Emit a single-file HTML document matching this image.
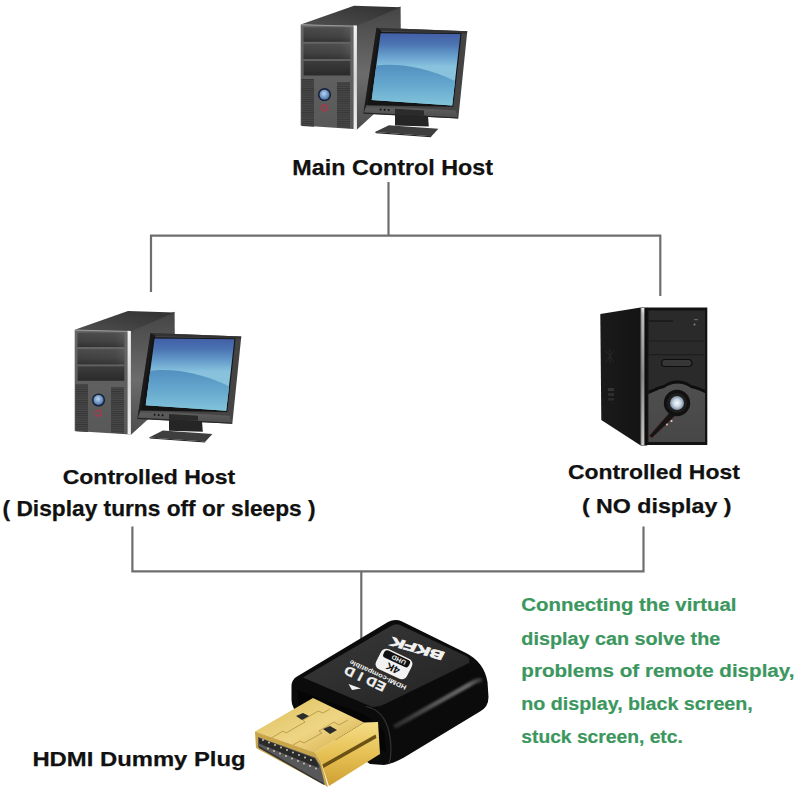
<!DOCTYPE html>
<html><head><meta charset="utf-8">
<style>
html,body{margin:0;padding:0;background:#fff;}
body{width:800px;height:800px;overflow:hidden;position:relative;}
svg{position:absolute;left:0;top:0;}
text{font-family:"Liberation Sans",sans-serif;font-weight:bold;}
</style></head><body>
<svg width="800" height="800" viewBox="0 0 800 800">
<defs>
 <linearGradient id="scr" x1="0" y1="0" x2="0" y2="1">
  <stop offset="0" stop-color="#425fa6"/>
  <stop offset="0.15" stop-color="#4b74b2"/>
  <stop offset="0.35" stop-color="#6ea8d2"/>
  <stop offset="0.46" stop-color="#88c2dd"/>
 </linearGradient>
 <linearGradient id="wave" x1="0" y1="0" x2="0" y2="1">
  <stop offset="0" stop-color="#5290c0"/>
  <stop offset="0.5" stop-color="#66a8ce"/>
  <stop offset="1" stop-color="#82c4da"/>
 </linearGradient>
 <radialGradient id="btnb" cx="0.45" cy="0.4" r="0.6">
  <stop offset="0" stop-color="#b9d4f0"/>
  <stop offset="1" stop-color="#4a74a8"/>
 </radialGradient>
 <linearGradient id="topf" x1="0" y1="1" x2="1" y2="0">
  <stop offset="0" stop-color="#505050"/>
  <stop offset="1" stop-color="#303030"/>
 </linearGradient>
 <linearGradient id="sidef" x1="0" y1="0" x2="0" y2="1">
  <stop offset="0" stop-color="#444"/>
  <stop offset="0.55" stop-color="#6c6c6c"/>
  <stop offset="1" stop-color="#4c4c4c"/>
 </linearGradient>
 <linearGradient id="bay" x1="0" y1="0" x2="0" y2="1">
  <stop offset="0" stop-color="#5a5a5a"/>
  <stop offset="0.6" stop-color="#444"/>
  <stop offset="1" stop-color="#262626"/>
 </linearGradient>
 <linearGradient id="gold" x1="0" y1="0" x2="1" y2="1">
  <stop offset="0" stop-color="#e9cf7a"/>
  <stop offset="1" stop-color="#c99a33"/>
 </linearGradient>
 <linearGradient id="goldf" x1="0" y1="0" x2="1" y2="0">
  <stop offset="0" stop-color="#d8b050"/>
  <stop offset="1" stop-color="#b08020"/>
 </linearGradient>
 <radialGradient id="pwr" cx="0.5" cy="0.5" r="0.5">
  <stop offset="0" stop-color="#fafcff"/>
  <stop offset="0.55" stop-color="#c6d4e2"/>
  <stop offset="1" stop-color="#7d8b9c"/>
 </radialGradient>

 <linearGradient id="front" x1="0" y1="0" x2="0" y2="1">
  <stop offset="0" stop-color="#676767"/>
  <stop offset="1" stop-color="#585858"/>
 </linearGradient>
 <linearGradient id="strip" x1="0" y1="0" x2="0" y2="1">
  <stop offset="0" stop-color="#f4f4f4"/>
  <stop offset="0.5" stop-color="#d8d8d8"/>
  <stop offset="1" stop-color="#f0f0f0"/>
 </linearGradient>
 <linearGradient id="bay2" x1="0" y1="0" x2="1" y2="0">
  <stop offset="0" stop-color="#3c3c3c"/>
  <stop offset="0.8" stop-color="#444"/>
  <stop offset="1" stop-color="#5a5a5a"/>
 </linearGradient>
 <linearGradient id="bezel" x1="0" y1="0" x2="0" y2="1">
  <stop offset="0" stop-color="#4a4a4a"/>
  <stop offset="0.3" stop-color="#5c5c5c"/>
  <stop offset="1" stop-color="#4e4e4e"/>
 </linearGradient>
 <pattern id="vent" width="4" height="2.2" patternUnits="userSpaceOnUse">
  <rect width="4" height="2.2" fill="#484848"/>
  <rect width="4" height="0.9" fill="#363636"/>
 </pattern>
 <g id="pc">
  <!-- tower -->
  <polygon points="354.8,25.6 400.6,6.4 401,60 374,114 357,129.5" fill="url(#sidef)"/>
  <polygon points="300.7,24.4 354,5.7 400.6,7.2 355.4,26.6" fill="url(#topf)"/>
  <polygon points="300.7,24.4 356.9,25.6 356.9,129.2 300.7,125.6" fill="url(#front)"/>
  <line x1="301" y1="24.8" x2="355" y2="26.2" stroke="#9a9a9a" stroke-width="1"/>
  <polygon points="353.6,25.5 356.9,25.6 356.9,129.2 353.6,129" fill="url(#strip)"/>
  <rect x="303.6" y="27.3" width="46.7" height="14.4" fill="url(#bay)"/>
  <rect x="303.6" y="27.3" width="46.7" height="14.4" fill="url(#bay2)" opacity="0.5"/>
  <rect x="303.6" y="43.8" width="46.7" height="15.2" fill="url(#bay)"/>
  <rect x="303.6" y="43.8" width="46.7" height="15.2" fill="url(#bay2)" opacity="0.5"/>
  <rect x="303.6" y="61" width="46.7" height="14.5" fill="url(#bay3)"/>
  <polygon points="301.5,79 314,79 314,126.7 301.5,125.9" fill="url(#vent)"/>
  <polygon points="337,82 350,82 350,128.3 337,127.5" fill="url(#vent)"/>
  <circle cx="324.5" cy="94.7" r="6.6" fill="#16223a"/>
  <circle cx="324.5" cy="94.7" r="5" fill="url(#btnb)"/>
  <circle cx="324.5" cy="107.8" r="3" fill="none" stroke="#a8394a" stroke-width="1.4"/>
  <!-- monitor -->
  <polygon points="376.5,27.75 467.3,31.2 458.3,118.5 363.4,113.4" fill="#444"/>
  <polygon points="376.5,27.75 467.3,31.2 466.8,33.5 377,30.5" fill="#333"/>
  <polygon points="376.5,27.75 381.5,30.5 368,106 363.4,113.4" fill="#1a1a1a"/>
  <polygon points="366.5,105 455.5,110.5 457.8,117.5 363.8,112.5" fill="url(#bezel)"/>
  <polygon points="363.8,112.5 457.8,117.5 458.3,118.5 363.4,113.8" fill="#262626"/>
  <polygon points="379.3,32 461.6,33.2 453.2,106.8 367.5,105.3" fill="#141414"/>
  <polygon points="380.6,33.25 460.4,34 452.2,105.5 371.7,100" fill="url(#scr)"/>
  <path d="M376.3,65.5 C395,63 425,66 455.1,81 L452.2,105.5 L371.7,100 Z" fill="url(#wave)"/>
  <circle cx="380.6" cy="109.4" r="1" fill="#111"/>
  <circle cx="384.6" cy="109.7" r="1" fill="#111"/>
  <circle cx="388.6" cy="110" r="1" fill="#111"/>
  <polygon points="395,108.8 424,110.5 424,115.5 395,114.5" fill="#2b2b2b"/>
  <polygon points="395,114.5 428,116 428.8,126.5 395,125.5" fill="#252525"/>
  <polygon points="388.9,125.3 438.4,128.7 431.5,136.3 375,132.1" fill="#3e3e3e"/>
  <polygon points="375,132.1 431.5,136.3 431,137.3 376,133.3" fill="#222"/>
 </g>
 <linearGradient id="rside" x1="0" y1="0" x2="1" y2="0">
  <stop offset="0" stop-color="#1a1a1a"/>
  <stop offset="1" stop-color="#141414"/>
 </linearGradient>
 <linearGradient id="rstrip" x1="0" y1="0" x2="0" y2="1">
  <stop offset="0" stop-color="#e8e8e8"/>
  <stop offset="0.05" stop-color="#bdbdbd"/>
  <stop offset="0.5" stop-color="#8a8a8a"/>
  <stop offset="1" stop-color="#c8c8c8"/>
 </linearGradient>
 <linearGradient id="rbez" x1="0" y1="0" x2="0" y2="1">
  <stop offset="0" stop-color="#4f4f4f"/>
  <stop offset="1" stop-color="#474747"/>
 </linearGradient>
 <linearGradient id="ptop" x1="0" y1="0" x2="1" y2="1">
  <stop offset="0" stop-color="#3a3a3a"/>
  <stop offset="1" stop-color="#222"/>
 </linearGradient>
 <linearGradient id="goldtop" x1="0" y1="0" x2="1" y2="1">
  <stop offset="0" stop-color="#dcbf5c"/>
  <stop offset="0.55" stop-color="#eed584"/>
  <stop offset="1" stop-color="#d3aa44"/>
 </linearGradient>
 <linearGradient id="goldside" x1="0" y1="0" x2="0" y2="1">
  <stop offset="0" stop-color="#f4dc86"/>
  <stop offset="0.5" stop-color="#e6c155"/>
  <stop offset="1" stop-color="#cf9f32"/>
 </linearGradient>
 <linearGradient id="gloss" gradientUnits="userSpaceOnUse" x1="394" y1="727" x2="482" y2="680">
  <stop offset="0" stop-color="#2a2a2a"/>
  <stop offset="0.5" stop-color="#5a5a5a"/>
  <stop offset="0.85" stop-color="#6a6a6a"/>
  <stop offset="1" stop-color="#333"/>
 </linearGradient>
 <filter id="blur1" x="-10%" y="-50%" width="120%" height="200%"><feGaussianBlur stdDeviation="0.9"/></filter>
 <linearGradient id="bay3" x1="0" y1="0" x2="0" y2="1">
  <stop offset="0" stop-color="#3c3c3c"/>
  <stop offset="1" stop-color="#2a2a2a"/>
 </linearGradient>
</defs>

<!-- connector lines -->
<g stroke="#6e6e6e" stroke-width="2.2" fill="none">
 <line x1="388.5" y1="182" x2="388.5" y2="236"/>
 <polyline points="151,292 151,235.7 660.3,235.7 660.3,296"/>
 <polyline points="132.4,526.5 132.4,571.4 643.5,571.4 643.5,526.5"/>
 <line x1="361.3" y1="571" x2="361.3" y2="640"/>
</g>

<use href="#pc"/>
<use href="#pc" transform="translate(-226,305.3)"/>

<!-- right black tower -->
<g>
 <polygon points="600.3,314 640.7,307.5 640.7,445.4 601.3,420" fill="url(#rside)"/>
 <path d="M606,351 L614,362 M614,351 L606,362 M610,349 L610,364" stroke="#2c2c2c" stroke-width="0.8" fill="none"/>
 <rect x="608" y="388" width="6" height="3" fill="#333"/>
 <rect x="608" y="393" width="6" height="3" fill="#2e2e2e"/>
 <rect x="608" y="398" width="6" height="2.5" fill="#2a2a2a"/>
 <rect x="640.7" y="307.5" width="6.5" height="138" fill="#0e0e0e"/>
 <rect x="641.2" y="308" width="3.2" height="137" fill="url(#rstrip)"/>
 <rect x="647" y="307.5" width="60.3" height="137.5" fill="#121212"/>
 <rect x="648.5" y="310.5" width="56.5" height="131" fill="#2a2a2a"/>
 <rect x="649" y="320.5" width="24" height="1" fill="#111"/>
 <rect x="649" y="340.5" width="55" height="0.9" fill="#1a1a1a"/>
 <rect x="649" y="354.3" width="55" height="0.9" fill="#1a1a1a"/>
 <rect x="661.5" y="359.5" width="30.5" height="7" rx="3.5" fill="#363636" stroke="#0e0e0e" stroke-width="1.2"/>
 <circle cx="694.5" cy="324.5" r="1" fill="#888"/>
 <rect x="694" y="319" width="4" height="1.2" fill="#666"/>
 <!-- lower gray bezel -->
 <path d="M648.5,394 C654,392 658,389 664,388 C668,385 672,383.5 677,383.5 C683,383.5 688,385.5 691,388 C697,389 701,391 705,393 L705,442 L648.5,442 Z" fill="url(#rbez)"/>
 <path d="M648.5,390.5 C654,389 658,386 664,385 C668,382 672,380.5 677,380.5 C683,380.5 688,382.5 691,385 C697,386 701,388 705,390 L705,393 C701,391 697,389 691,388 C688,385.5 683,383.5 677,383.5 C672,383.5 668,385 664,388 C658,389 654,392 648.5,394 Z" fill="#0e0e0e"/>
 <path d="M670,412 L675,416 L652,438 L649,436 Z" fill="#151515" stroke="#6a3030" stroke-width="0.6"/>
 <circle cx="677" cy="403" r="13.2" fill="#111"/>
 <circle cx="677" cy="403" r="10" fill="#1e1e1e"/>
 <circle cx="677" cy="403" r="7" fill="url(#pwr)"/>
 <circle cx="667" cy="424.5" r="1.1" fill="#e8b0a0"/>
 <circle cx="671.5" cy="421" r="1.1" fill="#f0d0c0"/>
</g>

<!-- HDMI plug -->
<g>
 <!-- body silhouette -->
 <path d="M291.5,688 Q291,680 297,676.5 L388,622 Q395,618.5 402,621.5 L466,653 Q484,662 487.5,682 L488.5,697 Q488.5,707 480,711.5 L404,757.5 Q392,764 384,765 L370,764 L300,716 Q291.5,708 291.5,700 Z" fill="#0b0b0b"/>
 <!-- top face -->
 <path d="M303,677.5 L391,626 Q396,623 401,625.5 L466,656 Q471,659 469,663 L386,703.5 Q379,707.5 371,706.5 Z" fill="url(#ptop)"/>
 <!-- side gloss stripe -->
 <path d="M394,727 L474,682 Q479,679.5 482,680" fill="none" stroke="url(#gloss)" stroke-width="4.5" filter="url(#blur1)"/>
 <path d="M366,706.5 Q384,710 389,732 Q393,750 389,764" fill="none" stroke="#333" stroke-width="1.2"/>
 <path d="M300,716 L370,744" stroke="#222" stroke-width="1"/>
 <!-- collar opening -->
 <path d="M297,690 L352,710 Q372,716 384,732 L386,752 L300,712 Z" fill="#050505"/>
 <!-- gold right side -->
 <polygon points="315,752.5 364,722.5 378,722 380,754 329,786 321,762" fill="url(#goldside)"/>
 <polygon points="322.5,764.5 375.5,734.5 376.5,738 323.5,768" fill="#6b5214"/>
 <!-- gold top -->
 <polygon points="255,731.5 313,698 364,722.5 315,752.5" fill="url(#goldtop)"/>
 <!-- seams -->
 <path d="M268,740 L283,731 L286,733 L305,722 L303,720 L318,711 L323,713 L330,709" fill="none" stroke="#a88a3a" stroke-width="0.7"/>
 <path d="M288,748 L300,741 L304,743 L322,733 L319,731 L334,722 L339,725 L348,720" fill="none" stroke="#a88a3a" stroke-width="0.7"/>
 <!-- holes -->
 <polygon points="296,716 303,713 309,716 302,720" fill="#2a2a2a"/>
 <polygon points="323,729 330,726 337,730 330,734" fill="#2a2a2a"/>
 <!-- mouth -->
 <polygon points="255,731.5 315,752.5 321,762 328,787 256,748" fill="#c9a64a"/>
 <polygon points="258,737 315,757.5 320,765 325,785 258,747" fill="#58585a"/>
 <polygon points="259,738 315,758.5 318,764 319,768 259,743.5" fill="#2a2a2a"/>
 <polygon points="259,746 323,783 324,785 259,748" fill="#333"/>
 <g fill="#d8d0b8">
  <circle cx="263" cy="740" r="0.9"/><circle cx="269" cy="742.5" r="0.9"/><circle cx="275" cy="745" r="0.9"/><circle cx="281" cy="747.5" r="0.9"/><circle cx="287" cy="750" r="0.9"/><circle cx="293" cy="752.5" r="0.9"/><circle cx="299" cy="755" r="0.9"/><circle cx="305" cy="757.5" r="0.9"/><circle cx="311" cy="760" r="0.9"/>
  <circle cx="268" cy="748.5" r="0.9"/><circle cx="274" cy="751" r="0.9"/><circle cx="280" cy="753.5" r="0.9"/><circle cx="286" cy="756" r="0.9"/><circle cx="292" cy="758.5" r="0.9"/><circle cx="298" cy="761" r="0.9"/><circle cx="304" cy="763.5" r="0.9"/><circle cx="310" cy="766" r="0.9"/><circle cx="316" cy="768.5" r="0.9"/>
 </g>
 <!-- white logo text -->
 <g fill="#f2f2f2">
  <text transform="matrix(-0.961,-0.276,0.40,-0.80,445.5,652.5)" font-size="14" font-weight="bold" textLength="55" lengthAdjust="spacingAndGlyphs" stroke="#f2f2f2" stroke-width="0.9">BKFK</text>
  <text transform="matrix(-0.906,-0.423,0.42,-0.83,387,684)" font-size="14" font-weight="bold" textLength="44" lengthAdjust="spacing" stroke="#f2f2f2" stroke-width="0.4">ED I D</text>
  <text transform="matrix(-0.906,-0.423,0.42,-0.83,407,686)" font-size="7" textLength="62" lengthAdjust="spacingAndGlyphs">HDMI-compatible</text>
  <polygon points="348.5,684 361,688.5 352,690" />
 </g>
 <g transform="matrix(-0.906,-0.423,0.42,-0.83,411.5,667)">
  <rect x="0" y="-17" width="34" height="24" rx="6" fill="#f2f2f2"/>
  <text x="9" y="-6" font-size="11" fill="#111">4K</text>
  <rect x="3" y="-3" width="28" height="8.5" rx="3" fill="#111"/>
  <text x="7" y="3.6" font-size="7" fill="#f2f2f2">UHD</text>
 </g>
</g>

<!-- text -->
<g fill="#111" stroke="#111" stroke-width="0.25">
 <text x="292.3" y="175.4" font-size="22" textLength="200.8" lengthAdjust="spacingAndGlyphs">Main Control Host</text>
 <text x="62.7" y="483.7" font-size="21" textLength="172.6" lengthAdjust="spacingAndGlyphs">Controlled Host</text>
 <text x="2.6" y="515.6" font-size="22" textLength="313" lengthAdjust="spacingAndGlyphs">( Display turns off or sleeps )</text>
 <text x="567.9" y="478.9" font-size="21" textLength="171.9" lengthAdjust="spacingAndGlyphs">Controlled Host</text>
 <text x="581.9" y="513" font-size="21" textLength="149.6" lengthAdjust="spacingAndGlyphs">( NO display )</text>
 <text x="32.4" y="765.8" font-size="21" textLength="213.2" lengthAdjust="spacingAndGlyphs">HDMI Dummy Plug</text>
</g>
<g fill="#3b975e" stroke="#3b975e" stroke-width="0.2" font-size="18">
 <text x="521.3" y="611.3" textLength="215.2" lengthAdjust="spacingAndGlyphs">Connecting the virtual</text>
 <text x="521.3" y="644.8" textLength="199" lengthAdjust="spacingAndGlyphs">display can solve the</text>
 <text x="521.3" y="677.4" textLength="273.2" lengthAdjust="spacingAndGlyphs">problems of remote display,</text>
 <text x="521.3" y="710" textLength="231.5" lengthAdjust="spacingAndGlyphs">no display, black screen,</text>
 <text x="521.3" y="743.4" textLength="161.5" lengthAdjust="spacingAndGlyphs">stuck screen, etc.</text>
</g>
</svg>
</body></html>
